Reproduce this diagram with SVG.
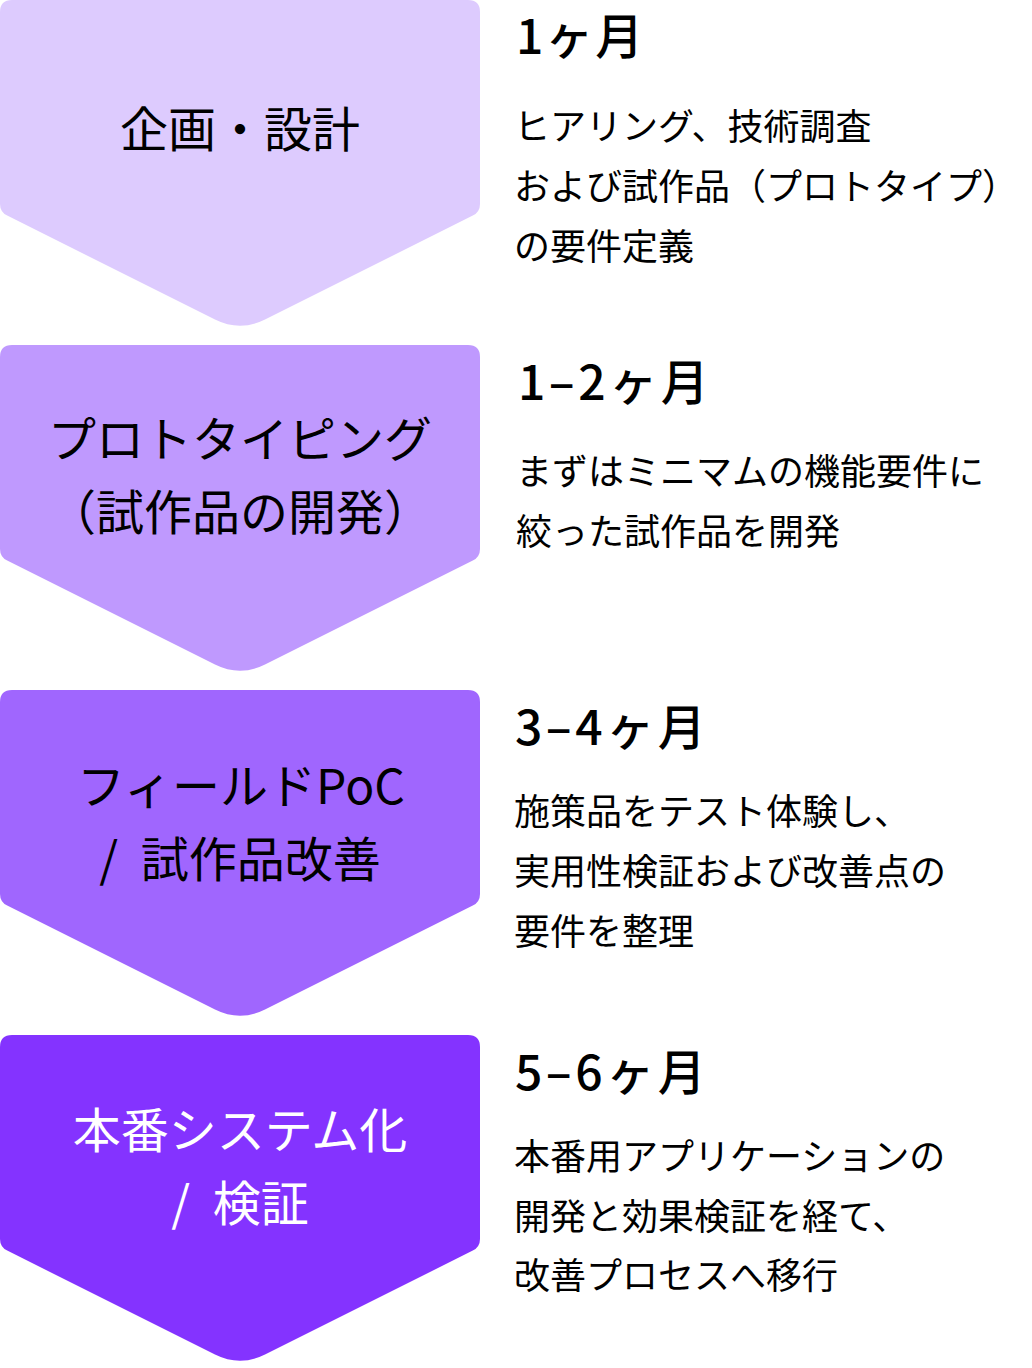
<svg xmlns="http://www.w3.org/2000/svg" xmlns:xlink="http://www.w3.org/1999/xlink" width="1032" height="1368" viewBox="0 0 1032 1368">
  <style>
    text { font-family: "Noto Sans CJK JP", "Noto Sans", sans-serif; fill: #000; }
    .lbl { font-size: 48px; text-anchor: middle; font-weight: 400; }
    .lbl.w { fill: #fff; }
    .lbl.s { word-spacing: 12px; }
    .hd { font-size: 48px; font-weight: 500; letter-spacing: 2px; }
    .hd.r { letter-spacing: 3.5px; }
    .bd { font-size: 36px; font-weight: 400; }
  </style>
  <defs>
    <path id="chev" d="M 12 0 H 468 Q 480 0 480 12 V 204 Q 480 212 472.8 215.6 L 265 319.5 Q 240 332 215 319.5 L 7.2 215.6 Q 0 212 0 204 V 12 Q 0 0 12 0 Z"/>
  </defs>
  <rect width="1032" height="1368" fill="#fff"/>
  <g id="connectors"/>

  <g id="step1">
    <use xlink:href="#chev" href="#chev" fill="#DDCBFE"/>
    <text class="lbl" x="240" y="147">企画・設計</text>
  </g>
  <g id="step1-desc">
    <text class="hd" x="516" y="54">1ヶ月</text>
    <text class="bd" x="514" y="140">ヒアリング、技術調査</text>
    <text class="bd" x="514" y="200">および試作品（プロトタイプ）</text>
    <text class="bd" x="514" y="260">の要件定義</text>
  </g>

  <g id="step2">
    <use xlink:href="#chev" href="#chev" transform="translate(0,345)" fill="#BF99FE"/>
    <text class="lbl" x="240" y="457">プロトタイピング</text>
    <text class="lbl" x="240" y="530">（試作品の開発）</text>
  </g>
  <g id="step2-desc">
    <text class="hd r" x="518" y="400">1–2ヶ月</text>
    <text class="bd" x="516" y="485">まずはミニマムの機能要件に</text>
    <text class="bd" x="516" y="545">絞った試作品を開発</text>
  </g>

  <g id="step3">
    <use xlink:href="#chev" href="#chev" transform="translate(0,690)" fill="#A066FE"/>
    <text class="lbl" x="241" y="804">フィールドPoC</text>
    <text class="lbl s" x="240" y="877">/ 試作品改善</text>
  </g>
  <g id="step3-desc">
    <text class="hd r" x="515" y="745">3–4ヶ月</text>
    <text class="bd" x="514" y="825">施策品をテスト体験し、</text>
    <text class="bd" x="514" y="885">実用性検証および改善点の</text>
    <text class="bd" x="514" y="945">要件を整理</text>
  </g>

  <g id="step4">
    <use xlink:href="#chev" href="#chev" transform="translate(0,1035)" fill="#8433FF"/>
    <text class="lbl w" x="240" y="1148">本番システム化</text>
    <text class="lbl w s" x="240" y="1221">/ 検証</text>
  </g>
  <g id="step4-desc">
    <text class="hd r" x="515" y="1090">5–6ヶ月</text>
    <text class="bd" x="514" y="1170">本番用アプリケーションの</text>
    <text class="bd" x="514" y="1230">開発と効果検証を経て、</text>
    <text class="bd" x="514" y="1289">改善プロセスへ移行</text>
  </g>
</svg>
